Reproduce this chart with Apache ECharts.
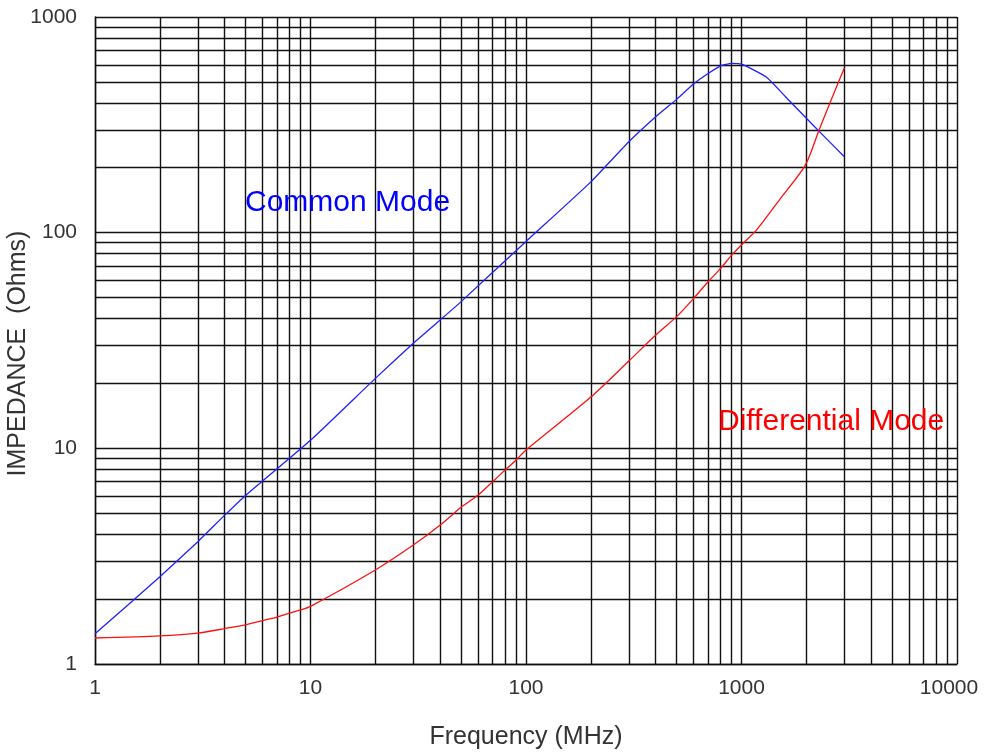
<!DOCTYPE html>
<html>
<head>
<meta charset="utf-8">
<script src="https://cdn.jsdelivr.net/npm/echarts@6/dist/echarts.min.js"></script>
<style>
html,body{margin:0;padding:0;background:#fff;}
#chart{width:984px;height:754px;}
</style>
</head>
<body>
<div id="chart"></div>
<script>
// Frequency (MHz) and impedance (Ohms)
const cmFreq = [1, 2, 3, 4, 5, 10, 20, 30, 40, 50, 100, 200, 300, 400, 500, 600, 700, 800, 900, 1000, 1300, 1600, 2000, 2300, 3000];
const cmZ    = [1.38, 2.54, 3.69, 4.9, 6.05, 10.9, 21.1, 30.7, 39.4, 47.9, 91, 172, 264, 345, 415, 490, 547, 594, 609, 605, 528, 427, 339, 294, 225];

const dmFreq = [1, 2, 3, 4, 5, 6, 7, 8, 9, 10, 20, 30, 40, 50, 60, 70, 80, 90, 100, 200, 300, 400, 500, 600, 700, 800, 900, 1000, 1175, 1500, 1975, 2293, 2575, 3000];
const dmZ    = [1.32, 1.35, 1.39, 1.46, 1.52, 1.59, 1.65, 1.72, 1.78, 1.85, 2.73, 3.56, 4.41, 5.33, 6.07, 7.0, 7.93, 8.83, 9.82, 17.3, 25.4, 33.5, 40.8, 49.6, 59.2, 68.3, 78.7, 87.7, 103, 142, 205, 300, 400, 580];

const xTickLabels = [1, 10, 100, 1000, 10000];
const yTickLabels = [1, 10, 100, 1000];
const xMinorGrid = [2,3,4,5,6,7,8,9, 20,30,40,50,60,70,80,90, 200,300,400,500,600,700,800,900, 2000,3000,4000,5000,6000,7000,8000,9000];
const yMinorGrid = [2,3,4,5,6,7,8,9, 20,30,40,50,60,70,80,90, 200,300,400,500,600,700,800,900];

const seriesNames = ['Common Mode', 'Differential Mode'];

const gridColor = '#111';
const gridWidth = 1.4;
const font = '"Liberation Sans", Arial, sans-serif';

const chart = echarts.init(document.getElementById('chart'), null, {renderer: 'canvas'});

const minorLines = []
  .concat(xMinorGrid.map(v => ({xAxis: v})))
  .concat(yMinorGrid.map(v => ({yAxis: v})));

const lastX = xTickLabels[xTickLabels.length - 1];

chart.setOption({
  animation: false,
  backgroundColor: '#fff',
  grid: {left: 95, right: 27, top: 17, bottom: 90, containLabel: false, outerBoundsMode: 'none'},
  xAxis: {
    type: 'log', logBase: 10, min: 1, max: 10000,
    name: 'Frequency (MHz)', nameLocation: 'middle', nameGap: 61, nameMoveOverlap: false,
    nameTextStyle: {fontSize: 25, color: '#333', fontFamily: font},
    axisLine: {show: true, lineStyle: {color: gridColor, width: gridWidth}},
    axisTick: {show: false},
    axisLabel: {fontSize: 21, color: '#333', fontFamily: font, margin: 14,
      formatter: v => {
        const r = Math.round(v);
        if (xTickLabels.indexOf(r) < 0) return '';
        return r === lastX ? '{last|' + r + '}' : String(r);
      },
      rich: {last: {fontSize: 21, color: '#333', fontFamily: font, padding: [0, 16, 0, 0]}}
    },
    splitLine: {show: true, lineStyle: {color: gridColor, width: gridWidth}},
    minorTick: {show: false}, minorSplitLine: {show: false}
  },
  yAxis: {
    type: 'log', logBase: 10, min: 1, max: 1000,
    name: 'IMPEDANCE  (Ohms)', nameLocation: 'middle', nameGap: 64, nameRotate: 90, nameMoveOverlap: false,
    nameTextStyle: {fontSize: 25, color: '#333', fontFamily: font, padding: [0, 26, 0, 0]},
    axisLine: {show: true, lineStyle: {color: gridColor, width: gridWidth}},
    axisTick: {show: false},
    axisLabel: {fontSize: 21, color: '#333', fontFamily: font, margin: 18,
      formatter: v => (yTickLabels.indexOf(Math.round(v)) >= 0 ? String(Math.round(v)) : '')},
    splitLine: {show: true, lineStyle: {color: gridColor, width: gridWidth}},
    minorTick: {show: false}, minorSplitLine: {show: false}
  },
  series: [
    {
      name: 'grid', type: 'line', data: [], silent: true,
      markLine: {
        silent: true, symbol: ['none', 'none'], label: {show: false},
        lineStyle: {color: gridColor, width: gridWidth, type: 'solid'},
        emphasis: {disabled: true},
        data: minorLines, animation: false
      }
    },
    {
      name: seriesNames[0], type: 'line', showSymbol: false, smooth: 0.15,
      data: cmFreq.map((f, i) => [f, cmZ[i]]),
      lineStyle: {color: '#2020ff', width: 1.3}, z: 5
    },
    {
      name: seriesNames[1], type: 'line', showSymbol: false, smooth: 0.25,
      data: dmFreq.map((f, i) => [f, dmZ[i]]),
      lineStyle: {color: '#ff1010', width: 1.3}, z: 5
    }
  ],
  graphic: [
    {type: 'text', left: 245, top: 188, z: 10,
      style: {text: seriesNames[0], fill: '#0000ff', font: '30px ' + font}},
    {type: 'text', left: 718, top: 407, z: 10,
      style: {text: seriesNames[1], fill: '#ff0000', font: '30px ' + font}}
  ]
});
</script>
</body>
</html>
